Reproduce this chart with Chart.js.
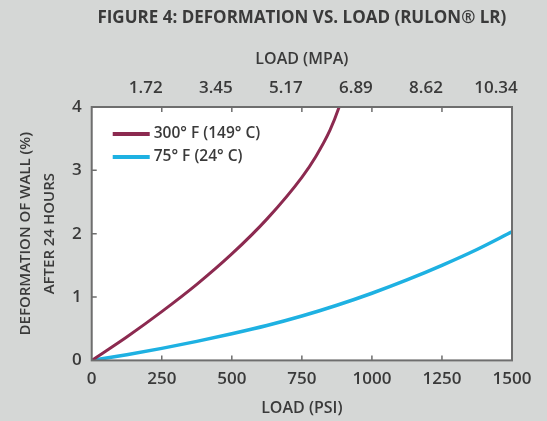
<!DOCTYPE html>
<html>
<head>
<meta charset="utf-8">
<script src="https://cdn.jsdelivr.net/npm/chart.js@4"></script>
<style>
  html, body { margin: 0; padding: 0; background: #d5d7d6; }
  #wrap { width: 547px; height: 421px; }
</style>
</head>
<body>
<div id="wrap"><canvas id="myChart"></canvas></div>
<script>
// dados
const mpaLabels = ['', '1.72', '3.45', '5.17', '6.89', '8.62', '10.34'];

const hotLoad = [0, 125, 250, 375, 500, 625, 750, 800, 850, 883, 900];
const hotDeform = [0, 0.37, 0.77, 1.20, 1.68, 2.23, 2.89, 3.22, 3.63, 4.0, 4.24];

const roomLoad = [0, 125, 250, 375, 500, 625, 750, 875, 1000, 1125, 1250, 1375, 1500];
const roomDeform = [0, 0.09, 0.19, 0.30, 0.42, 0.55, 0.70, 0.87, 1.06, 1.27, 1.50, 1.75, 2.03];

const textColor = '#3a3a3a';
const fontFamily = '"Open Sans", sans-serif';

function toPoints(xs, ys) {
    return xs.map((x, i) => ({ x: x, y: ys[i] }));
}

// fundo branco, moldura, ticks para dentro e legenda dentro do gráfico
const plotFrame = {
    id: 'plotFrame',
    beforeDatasetsDraw(chart) {
        const a = chart.chartArea;
        const ctx = chart.ctx;
        ctx.save();
        ctx.fillStyle = '#ffffff';
        ctx.fillRect(a.left, a.top, a.right - a.left, a.bottom - a.top);
        ctx.restore();
    },
    afterDraw(chart) {
        const a = chart.chartArea;
        const ctx = chart.ctx;
        ctx.save();
        ctx.strokeStyle = '#6e6e6e';
        ctx.lineWidth = 2;
        ctx.strokeRect(a.left, a.top, a.right - a.left, a.bottom - a.top);

        ctx.lineWidth = 1.5;
        ctx.beginPath();
        const xs = chart.scales.x;
        xs.ticks.forEach(t => {
            if (t.value <= xs.min || t.value >= xs.max) return;
            const px = xs.getPixelForValue(t.value);
            ctx.moveTo(px, a.bottom); ctx.lineTo(px, a.bottom - 5);
            ctx.moveTo(px, a.top); ctx.lineTo(px, a.top + 5);
        });
        const ys = chart.scales.y;
        ys.ticks.forEach(t => {
            if (t.value <= ys.min || t.value >= ys.max) return;
            const py = ys.getPixelForValue(t.value);
            ctx.moveTo(a.left, py); ctx.lineTo(a.left + 5, py);
        });
        ctx.stroke();

        // legenda
        ctx.font = '600 15.5px ' + fontFamily;
        ctx.textBaseline = 'middle';
        ctx.textAlign = 'left';
        chart.data.datasets.forEach((ds, i) => {
            const y = a.top + 27 + i * 23;
            const x0 = a.left + 21;
            ctx.strokeStyle = ds.borderColor;
            ctx.lineWidth = 4;
            ctx.beginPath();
            ctx.moveTo(x0, y); ctx.lineTo(x0 + 37, y);
            ctx.stroke();
            ctx.fillStyle = textColor;
            ctx.fillText(ds.label, x0 + 41, y);
        });
        ctx.restore();
    }
};

const tickFont = { family: fontFamily, size: 17, weight: '600' };

const ctx = document.getElementById('myChart').getContext('2d');
const myChart = new Chart(ctx, {
    type: 'line',
    data: {
        datasets: [{
            label: '300° F (149° C)',
            data: toPoints(hotLoad, hotDeform),
            borderColor: '#8c2a50',
            borderWidth: 3,
            pointRadius: 0,
            cubicInterpolationMode: 'monotone',
            xAxisID: 'x',
            yAxisID: 'y'
        }, {
            label: '75° F (24° C)',
            data: toPoints(roomLoad, roomDeform),
            borderColor: '#1eb1e2',
            borderWidth: 3.5,
            pointRadius: 0,
            cubicInterpolationMode: 'monotone',
            xAxisID: 'x',
            yAxisID: 'y'
        }]
    },
    options: {
        responsive: true,
        maintainAspectRatio: false,
        animation: false,
        layout: {
            padding: { top: 4, right: 35, bottom: 3, left: 14 }
        },
        plugins: {
            legend: { display: false },
            tooltip: { enabled: false },
            title: {
                display: true,
                fullSize: false,
                text: 'FIGURE 4: DEFORMATION VS. LOAD (RULON® LR)',
                color: textColor,
                font: { family: fontFamily, size: 17, weight: 'bold' },
                padding: { top: 4, bottom: 21 }
            }
        },
        scales: {
            x: {
                type: 'linear',
                position: 'bottom',
                min: 0,
                max: 1500,
                grid: { display: false, drawTicks: false },
                border: { display: false },
                ticks: {
                    stepSize: 250,
                    padding: 9,
                    color: textColor,
                    maxRotation: 0,
                    font: tickFont,
                    callback: (value) => value.toString()
                },
                title: {
                    display: true,
                    text: 'LOAD (PSI)',
                    color: textColor,
                    padding: { top: 0, bottom: 0 },
                    font: { family: fontFamily, size: 16, weight: '600' }
                }
            },
            x2: {
                type: 'linear',
                position: 'top',
                min: 0,
                max: 1500,
                grid: { display: false, drawTicks: false },
                border: { display: false },
                ticks: {
                    stepSize: 250,
                    padding: 9,
                    labelOffset: -16,
                    color: textColor,
                    maxRotation: 0,
                    font: tickFont,
                    callback: function(value) {
                        return mpaLabels[Math.round(value / 250)];
                    }
                },
                title: {
                    display: true,
                    text: 'LOAD (MPA)',
                    color: textColor,
                    padding: { top: 0, bottom: 0 },
                    font: { family: fontFamily, size: 16, weight: '600' }
                }
            },
            y: {
                type: 'linear',
                min: 0,
                max: 4,
                grid: { display: false, drawTicks: false },
                border: { display: false },
                ticks: {
                    stepSize: 1,
                    padding: 10,
                    color: textColor,
                    font: tickFont
                },
                title: {
                    display: true,
                    text: ['DEFORMATION OF WALL (%)', 'AFTER 24 HOURS'],
                    color: textColor,
                    padding: { top: 0, bottom: 0 },
                    font: { family: fontFamily, size: 15, weight: '600', lineHeight: 1.6 }
                }
            }
        }
    },
    plugins: [plotFrame]
});
</script>
</body>
</html>
